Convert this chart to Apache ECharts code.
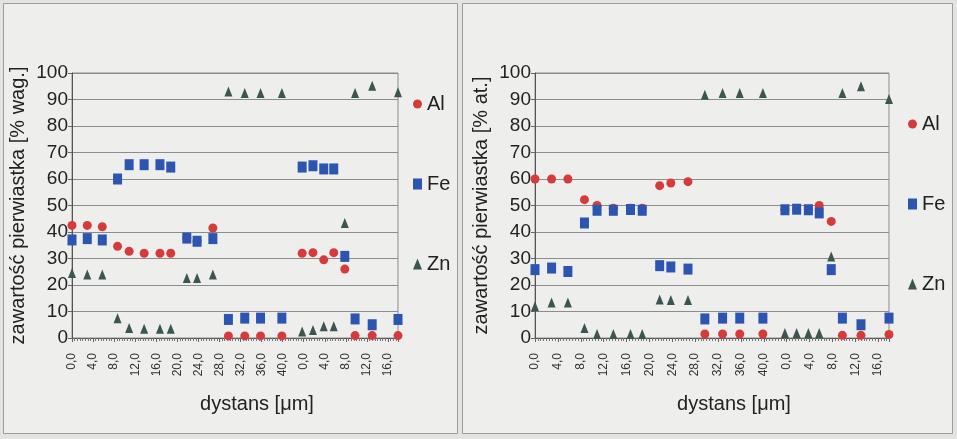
<!DOCTYPE html>
<html>
<head>
<meta charset="utf-8">
<script src="https://cdn.jsdelivr.net/npm/echarts@6/dist/echarts.min.js"></script>
<style>
  html, body { margin: 0; padding: 0; background: #e3e3e1; }
  #wykres { width: 957px; height: 439px; }
</style>
</head>
<body>
<div id="wykres"></div>
<script>
// Measurement points along the combined distance axis (µm).
// The first profile runs 0–40 µm, the second one starts at 44 (labelled 0,0 again).
const pozycja = [0, 2.9, 5.75, 8.65, 10.85, 13.7, 16.7, 18.75, 21.8, 23.75, 26.75, 29.7,
                 32.8, 35.8, 39.85, 43.7, 45.75, 47.8, 49.7, 51.8, 53.75, 57.0, 61.9];

// Tick labels of the distance axis, one every 4 µm
const etykietyDystansu = ['0,0', '4,0', '8,0', '12,0', '16,0', '20,0', '24,0', '28,0',
                          '32,0', '36,0', '40,0', '0,0', '4,0', '8,0', '12,0', '16,0'];

// Element content, % wag. (mass)
const alWag = [42.5, 42.5, 42, 34.6, 32.7, 32, 32, 32, 37.7, 36.5, 41.5, 0.8,
               0.8, 0.8, 0.8, 32, 32.2, 29.5, 32.2, 26, 0.9, 0.9, 0.9];
const feWag = [37, 37.5, 37, 60, 65.4, 65.4, 65.4, 64.5, 37.7, 36.5, 37.5, 7,
               7.5, 7.5, 7.5, 64.5, 65, 63.8, 63.8, 30.8, 7.2, 5, 7];
const znWag = [24.5, 24, 24, 7.5, 3.8, 3.5, 3.5, 3.5, 22.6, 22.6, 24, 93,
               92.5, 92.5, 92.5, 2.5, 3, 4.4, 4.4, 43.4, 92.5, 95.2, 92.7];

// Element content, % at. (atomic)
const alAt = [60, 60, 60, 52.2, 50, 49, 49, 49, 57.5, 58.5, 59, 1.5,
              1.5, 1.5, 1.5, 48.5, 48.5, 48.5, 50, 44, 1, 1, 1.3];
const feAt = [25.8, 26.4, 25.1, 43.4, 48.2, 48.2, 48.5, 48.2, 27.3, 26.8, 26, 7.2,
              7.5, 7.5, 7.5, 48.4, 48.6, 48.4, 47.2, 25.8, 7.5, 5, 7.5];
const znAt = [12, 13.4, 13.4, 3.8, 1.5, 1.5, 1.5, 1.5, 14.5, 14.3, 14.3, 91.8,
              92.5, 92.5, 92.5, 1.9, 1.9, 1.9, 1.9, 30.8, 92.5, 95, 90.2];

const yTytuly = ['zawartość pierwiastka [% wag.]', 'zawartość pierwiastka [% at.]'];
const xTytul = 'dystans [μm]';

const FONT = '"Liberation Sans", Arial, sans-serif';
const kolory = { Al: '#d63b3b', Fe: '#2c55b2', Zn: '#3b5650' };
const symbole = {
  Al: { symbol: 'circle', symbolSize: 9 },
  Fe: { symbol: 'rect', symbolSize: [9, 11] },
  Zn: { symbol: 'triangle', symbolSize: [8, 10] }
};

const pary = (wartosci) => pozycja.map((x, i) => [x, wartosci[i]]);

function osX(idx) {
  return {
    type: 'value', gridIndex: idx, min: 0, max: 61.9, interval: 4,
    name: xTytul, nameLocation: 'middle', nameGap: 56,
    nameTextStyle: { fontFamily: FONT, fontSize: 20, color: '#222', padding: [0, 0, 0, 44] },
    axisLine: { show: true, lineStyle: { color: '#555', width: 1 } },
    axisTick: { show: true, length: 4, lineStyle: { color: '#666' } },
    minorTick: { show: true, splitNumber: 8, length: 3, lineStyle: { color: '#777' } },
    splitLine: { show: false },
    axisLabel: {
      rotate: 90, fontFamily: FONT, fontSize: 12, color: '#333', margin: 15,
      showMaxLabel: false,
      formatter: (v) => (Math.abs(v / 4 - Math.round(v / 4)) < 1e-6 ? (etykietyDystansu[Math.round(v / 4)] || '') : '')
    }
  };
}

function osY(idx) {
  return {
    type: 'value', gridIndex: idx, min: 0, max: 100, interval: 10,
    name: yTytuly[idx], nameLocation: 'middle', nameGap: 44,
    nameTextStyle: { fontFamily: FONT, fontSize: 20, color: '#222' },
    axisLine: { show: true, lineStyle: { color: '#555', width: 1 } },
    axisTick: { show: true, length: 4, lineStyle: { color: '#666' } },
    splitLine: { show: true, lineStyle: { color: '#8c8c8c', width: 1 } },
    axisLabel: { fontFamily: FONT, fontSize: 19, color: '#222', margin: 4 }
  };
}

function seria(nazwa, wartosci, idx) {
  return {
    name: nazwa, type: 'scatter', xAxisIndex: idx, yAxisIndex: idx,
    symbol: symbole[nazwa].symbol, symbolSize: symbole[nazwa].symbolSize,
    itemStyle: { color: kolory[nazwa], opacity: 1 },
    emphasis: { disabled: true },
    data: pary(wartosci)
  };
}

function legenda(left, top) {
  return {
    orient: 'vertical', left: left, top: top, selectedMode: false,
    itemWidth: 9, itemHeight: 11, itemGap: 60,
    textStyle: { fontFamily: FONT, fontSize: 20, color: '#222', lineHeight: 20 },
    data: ['Al', 'Fe', 'Zn']
  };
}

const chart = echarts.init(document.getElementById('wykres'), null, { renderer: 'canvas' });
chart.setOption({
  backgroundColor: '#e3e3e1',
  animation: false,
  textStyle: { fontFamily: FONT },
  graphic: [
    { type: 'rect', z: -1, silent: true, shape: { x: 3.5, y: 3.5, width: 454, height: 430 },
      style: { fill: '#eeeeec', stroke: '#9c9c9a', lineWidth: 1 } },
    { type: 'rect', z: -1, silent: true, shape: { x: 462.5, y: 3.5, width: 490, height: 430 },
      style: { fill: '#eeeeec', stroke: '#9c9c9a', lineWidth: 1 } }
  ],
  grid: [
    { left: 72, top: 73, width: 326, height: 265, show: true, borderColor: '#8c8c8c', borderWidth: 1, backgroundColor: 'transparent' },
    { left: 535, top: 73, width: 354, height: 265, show: true, borderColor: '#8c8c8c', borderWidth: 1, backgroundColor: 'transparent' }
  ],
  xAxis: [osX(0), osX(1)],
  yAxis: [osY(0), osY(1)],
  legend: [legenda(408, 89), legenda(903, 109)],
  series: [
    seria('Al', alWag, 0), seria('Fe', feWag, 0), seria('Zn', znWag, 0),
    seria('Al', alAt, 1), seria('Fe', feAt, 1), seria('Zn', znAt, 1)
  ]
});
</script>
</body>
</html>
